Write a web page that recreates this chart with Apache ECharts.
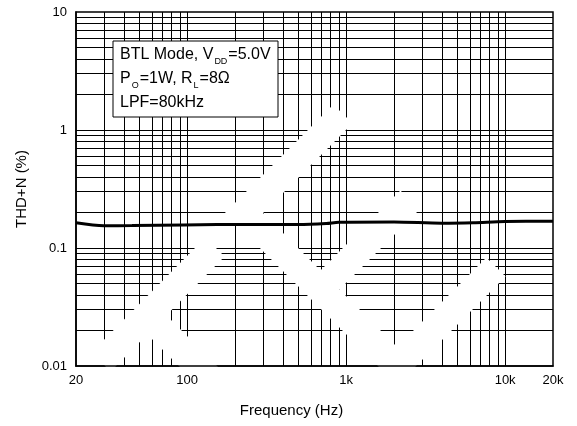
<!DOCTYPE html>
<html>
<head>
<meta charset="utf-8">
<script src="https://cdn.jsdelivr.net/npm/echarts@6/dist/echarts.min.js"></script>
<style>
  html, body { margin: 0; padding: 0; background: #fff; }
  #chart { width: 577px; height: 426px; }
</style>
</head>
<body>
<div id="chart"></div>
<script>
// THD+N versus frequency, BTL mode
const freqHz = [20, 30, 45, 95, 250, 500, 750, 900, 2000, 4000, 6300, 10000, 20000];
const thdPct = [0.1635, 0.1545, 0.1551, 0.157, 0.1582, 0.1582, 0.1613, 0.1651, 0.166, 0.1623, 0.1638, 0.1677, 0.1683];

// axis tick labels
const xTickValues = [20, 100, 1000, 10000, 20000];
const xTickLabels = ['20', '100', '1k', '10k', '20k'];
const yTickValues = [0.01, 0.1, 1, 10];
const yTickLabels = ['0.01', '0.1', '1', '10'];

// log grid lines
const xGridValues = [30, 40, 50, 60, 70, 80, 90, 100,
  200, 300, 400, 500, 600, 700, 800, 900, 1000,
  2000, 3000, 4000, 5000, 6000, 7000, 8000, 9000, 10000];
const yGridValues = [0.02, 0.03, 0.04, 0.05, 0.06, 0.07, 0.08, 0.09, 0.1,
  0.2, 0.3, 0.4, 0.5, 0.6, 0.7, 0.8, 0.9, 1,
  2, 3, 4, 5, 6, 7, 8, 9];

const FONT = 'Liberation Sans, Arial, Helvetica, sans-serif';

function lookupLabel(values, labels) {
  return function (v) {
    const lv = Math.log10(v);
    for (let i = 0; i < values.length; i++) {
      if (Math.abs(lv - Math.log10(values[i])) < 1e-6) return labels[i];
    }
    return '';
  };
}

// white diagonal bands of the logo overlay
const bandPaths = [
  [[343, 114], [244, 213], [397, 366], [496, 267]],
  [[320, 290], [410, 200]],
  [[101, 362], [215, 247]],
  [[147, 315], [275, 443]],
  [[79, 385], [20, 444]]
];

const chart = echarts.init(document.getElementById('chart'), null, { renderer: 'canvas' });

chart.setOption({
  animation: false,
  backgroundColor: '#fff',
  grid: {
    left: 76, right: 24, top: 12, bottom: 60,
    show: true, borderColor: '#000', borderWidth: 1.5, backgroundColor: 'transparent'
  },
  xAxis: {
    type: 'log', logBase: 10, min: 20, max: 20000, z: 8,
    axisLine: { show: true, lineStyle: { color: '#000', width: 1.5 } },
    axisTick: { show: false },
    splitLine: { show: false },
    axisLabel: {
      customValues: xTickValues,
      formatter: lookupLabel(xTickValues, xTickLabels),
      color: '#000', fontSize: 13, fontFamily: FONT, margin: 8
    },
    name: 'Frequency (Hz)', nameLocation: 'middle', nameGap: 37,
    nameTextStyle: { color: '#000', fontSize: 15, fontFamily: FONT, padding: [0, 46, 0, 0] }
  },
  yAxis: {
    type: 'log', logBase: 10, min: 0.01, max: 10, z: 8,
    axisLine: { show: true, lineStyle: { color: '#000', width: 1.5 } },
    axisTick: { show: false },
    splitLine: { show: false },
    axisLabel: {
      customValues: yTickValues,
      formatter: lookupLabel(yTickValues, yTickLabels),
      color: '#000', fontSize: 13, fontFamily: FONT, margin: 9
    },
    name: 'THD+N (%)', nameLocation: 'middle', nameGap: 47,
    nameTextStyle: { color: '#000', fontSize: 15, fontFamily: FONT }
  },
  series: [
    {
      type: 'line', data: [], z: 0, silent: true,
      markLine: {
        silent: true, symbol: ['none', 'none'], animation: false,
        label: { show: false },
        lineStyle: { color: '#000', width: 1, type: 'solid' },
        emphasis: { disabled: true },
        data: xGridValues.map(v => ({ xAxis: v })).concat(yGridValues.map(v => ({ yAxis: v })))
      }
    },
    {
      type: 'line', z: 8,
      data: freqHz.map((f, i) => [f, thdPct[i]]),
      smooth: 0.3, symbol: 'none',
      lineStyle: { color: '#000', width: 3 }
    }
  ],
  graphic: {
    elements: bandPaths.map(pts => ({
      type: 'polyline', z: 7, silent: true,
      shape: { points: pts },
      style: { stroke: '#fff', lineWidth: 27, fill: null, lineJoin: 'miter', lineCap: 'butt' }
    })).concat([
      {
        type: 'rect', z: 9, silent: true,
        shape: { x: 113, y: 41, width: 165, height: 76 },
        style: { fill: '#fff', stroke: '#000', lineWidth: 1 }
      },
      {
        type: 'text', z: 10, silent: true, x: 120, y: 43,
        style: {
          text: '{m|BTL Mode, V}{s|DD}{m|=5.0V}\n{m|P}{s|O}{m|=1W, R}{s|L}{m|=8\u03A9}\n{m|LPF=80kHz}',
          verticalAlign: 'top', align: 'left', fill: '#000',
          rich: {
            m: { fontSize: 16, fontFamily: FONT, lineHeight: 24, verticalAlign: 'middle', fill: '#000' },
            s: { fontSize: 9, fontFamily: FONT, lineHeight: 24, verticalAlign: 'bottom', padding: [0, 1, 1, 1], fill: '#000' }
          }
        }
      }
    ])
  }
});
</script>
</body>
</html>
